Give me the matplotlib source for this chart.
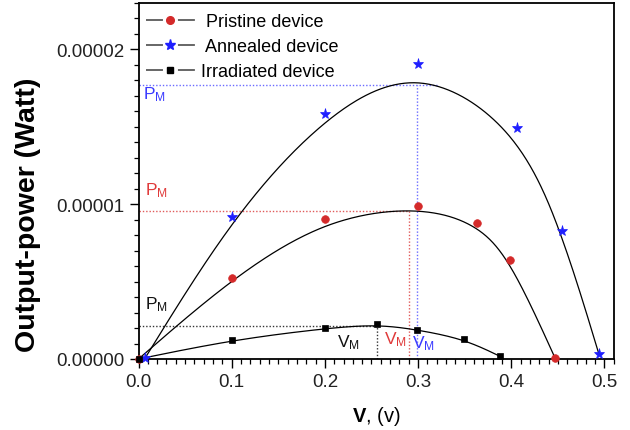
import numpy as np
import matplotlib
matplotlib.use("Agg")
import matplotlib.pyplot as plt
from matplotlib.lines import Line2D
from matplotlib.ticker import MultipleLocator, FuncFormatter

plt.rcParams['font.family'] = ['Liberation Sans', 'DejaVu Sans']
plt.rcParams['mathtext.fontset'] = 'custom'
plt.rcParams['mathtext.rm'] = 'Liberation Sans'
plt.rcParams['mathtext.bf'] = 'Liberation Sans:bold'
plt.rcParams['mathtext.it'] = 'Liberation Sans:italic'
plt.rcParams['lines.scale_dashes'] = False

# ---- data ----
V_pristine = [0.0, 0.1, 0.2, 0.3, 0.363, 0.399, 0.447]
P_pristine = [0.0, 5.24e-6, 9.05e-6, 9.89e-6, 8.77e-6, 6.42e-6, 0.06e-6]
V_annealed = [0.007, 0.1, 0.2, 0.3, 0.406, 0.454, 0.494]
P_annealed = [0.05e-6, 9.15e-6, 15.8e-6, 19.07e-6, 14.93e-6, 8.3e-6, 0.32e-6]
V_irradiated = [0.0, 0.1, 0.2, 0.2556, 0.2985, 0.3496, 0.388]
P_irradiated = [0.0, 1.23e-6, 1.98e-6, 2.24e-6, 1.90e-6, 1.29e-6, 0.17e-6]

labels = [" Pristine device", " Annealed device", "Irradiated device"]
# maximum power points (V_M, P_M) for pristine, annealed, irradiated
V_M = [0.2906, 0.299, 0.2556]
P_M = [9.59e-6, 17.68e-6, 2.11e-6]
P_M_line_end = [0.2906, 0.32, 0.2556]

red = '#d42a2a'
blue = '#1f1fff'
black = '#000000'


def bspline(x, y, n=60):
    """Uniform cubic B-spline with the data as control points,
    end points reflected so that the curve starts/ends at the first/last point."""
    P = np.column_stack([x, y]).astype(float)
    Q = np.vstack([2 * P[0] - P[1], P, 2 * P[-1] - P[-2]])
    t = np.linspace(0, 1, n)[:, None]
    b0 = (1 - t) ** 3 / 6
    b1 = (3 * t ** 3 - 6 * t ** 2 + 4) / 6
    b2 = (-3 * t ** 3 + 3 * t ** 2 + 3 * t + 1) / 6
    b3 = t ** 3 / 6
    segs = []
    for i in range(len(Q) - 3):
        segs.append(b0 * Q[i] + b1 * Q[i + 1] + b2 * Q[i + 2] + b3 * Q[i + 3])
    C = np.vstack(segs)
    return C[:, 0], C[:, 1]


fig = plt.figure(figsize=(6.3, 4.31), dpi=100)
ax = fig.add_axes([138.5 / 630, 71 / 431, (614 - 138.5) / 630, 356 / 431])

series = [
    (V_pristine, P_pristine, 'o', red, 5.5),
    (V_annealed, P_annealed, '*', blue, 8),
    (V_irradiated, P_irradiated, 's', black, 5),
]
handles = []
for (v, p, mk, col, ms), lab in zip(series, labels):
    cx, cy = bspline(v, p)
    ax.plot(cx, cy, color='black', lw=0.9, zorder=2)
    ax.plot(v, p, linestyle='none', marker=mk, color=col, markersize=ms,
            markeredgewidth=0.5, clip_on=False, zorder=3)
    handles.append(Line2D([], [], color='#5a5a5a', lw=1.3,
                          dashes=(12.2, 10.8, 12.2, 60), marker=mk,
                          markerfacecolor=col, markeredgecolor=col,
                          markersize=ms))

# dotted guide lines for the maximum power points
guide_cols = ['#e05a5a', '#6a6aff', '#333333']
for vm, pm, xe, gc in zip(V_M, P_M, P_M_line_end, guide_cols):
    ax.plot([0, xe], [pm, pm], linestyle=(0, (1, 1.4)), color=gc, lw=1.0, zorder=1)
    ax.plot([vm, vm], [0, pm], linestyle=(0, (1, 1.4)), color=gc, lw=1.0, zorder=1)

# annotations
fs = 12.5
ax.text(0.0048, 16.87e-6, r'$\mathrm{P}_{\mathrm{M}}$', color='#3a3aff', fontsize=fs, ha='left', va='baseline')
ax.text(0.007, 10.67e-6, r'$\mathrm{P}_{\mathrm{M}}$', color='#e03a3a', fontsize=fs, ha='left', va='baseline')
ax.text(0.007, 3.30e-6, r'$\mathrm{P}_{\mathrm{M}}$', color='#111111', fontsize=fs, ha='left', va='baseline')
ax.text(0.213, 0.84e-6, r'$\mathrm{V}_{\mathrm{M}}$', color='#111111', fontsize=fs, ha='left', va='baseline')
ax.text(0.2634, 1.03e-6, r'$\mathrm{V}_{\mathrm{M}}$', color='#e03a3a', fontsize=fs, ha='left', va='baseline')
ax.text(0.2935, 0.78e-6, r'$\mathrm{V}_{\mathrm{M}}$', color='#3a3aff', fontsize=fs, ha='left', va='baseline')

ax.set_xlim(0, 0.5102)
ax.set_ylim(0, 23.0e-6)
ax.xaxis.set_major_locator(MultipleLocator(0.1))
ax.xaxis.set_minor_locator(MultipleLocator(0.01))
ax.yaxis.set_major_locator(MultipleLocator(1e-5))
ax.yaxis.set_minor_locator(MultipleLocator(1e-6))
ax.xaxis.set_major_formatter(FuncFormatter(lambda v, pos: f"{v:.1f}"))
ax.yaxis.set_major_formatter(FuncFormatter(lambda v, pos: f"{v:.5f}"))
ax.tick_params(axis='both', which='major', direction='out', length=6.5, width=1.0,
               labelsize=13.5, pad=3.5, colors='black', labelcolor='#222222')
ax.tick_params(axis='both', which='minor', direction='out', length=3.5, width=0.9)
for s in ax.spines.values():
    s.set_linewidth(1.3)

ax.set_xlabel(r'$\mathbf{V}$, (v)', fontsize=14.5, labelpad=10)
ax.text(-0.233, 0.407, 'Output-power (Watt)', transform=ax.transAxes, rotation=90,
        ha='center', va='center', fontsize=20.5, fontweight='bold')

leg = ax.legend(handles, labels, loc='upper left', bbox_to_anchor=(-0.005, 1.0),
                frameon=False, fontsize=13, handlelength=2.7, handletextpad=0.33,
                labelspacing=0.44, borderaxespad=0.3, numpoints=1, borderpad=0.25)

fig.savefig('out.png', dpi=100)
